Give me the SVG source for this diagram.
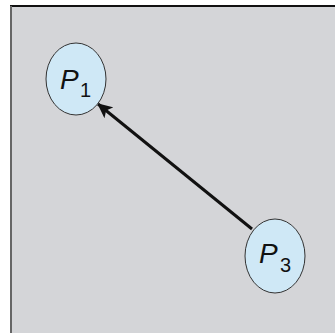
<svg xmlns="http://www.w3.org/2000/svg" width="335" height="333" viewBox="0 0 335 333">
<style>
.node ellipse{fill:#cfe8f6;stroke:#333;stroke-width:1}
.lbl{font-family:"Liberation Sans",Arial,sans-serif;font-size:28px;font-style:italic;fill:#111}
.sub{font-family:"Liberation Sans",Arial,sans-serif;font-size:20px;fill:#111}
</style>
<defs>
<marker id="ah" markerWidth="15" markerHeight="14" refX="14" refY="7" orient="auto" markerUnits="userSpaceOnUse" viewBox="0 0 15 14">
<path d="M0,0 L15,7 L0,14 L3.5,7 Z" fill="#111"/>
</marker>
</defs>
<rect x="0" y="0" width="335" height="333" fill="#ffffff"/>
<rect x="11" y="6" width="324" height="327" fill="#d4d5d8"/>
<line x1="10" y1="6" x2="335" y2="6" stroke="#111" stroke-width="2"/>
<line x1="11" y1="6" x2="11" y2="333" stroke="#666" stroke-width="2"/>
<g id="connectors">
<line x1="252" y1="229" x2="98" y2="104" stroke="#111" stroke-width="3" marker-end="url(#ah)"/>
</g>
<g id="p1" class="node">
<ellipse cx="76" cy="79" rx="30" ry="36"/>
<text x="60" y="89" class="lbl">P</text>
<text x="80" y="97" class="sub">1</text>
</g>
<g id="p3" class="node">
<ellipse cx="275" cy="256" rx="30" ry="37"/>
<text x="259" y="263" class="lbl">P</text>
<text x="280" y="272" class="sub">3</text>
</g>
</svg>
